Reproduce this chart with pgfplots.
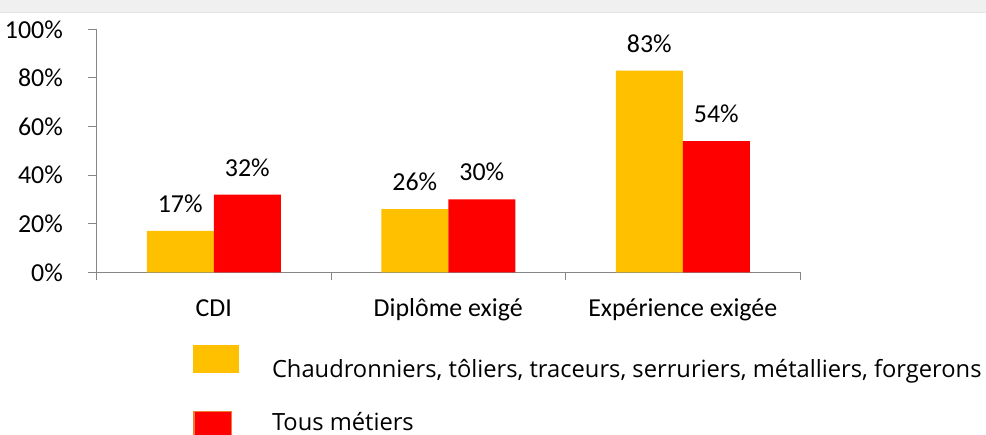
\documentclass[border=0pt]{standalone}
\usepackage{pgfplots}
\pgfplotsset{compat=1.18}
\usepackage{fontspec}
\setmainfont{Carlito}
\newfontfamily\legfont{Open Sans}
\definecolor{cyellow}{HTML}{FFC000}
\definecolor{cred}{HTML}{FF0000}
\definecolor{axgray}{HTML}{868686}
\definecolor{band}{HTML}{F0F0F0}
\definecolor{bandline}{HTML}{E4E4E4}
\definecolor{orangeb}{HTML}{ED7D31}
\begin{document}
\begin{tikzpicture}[x=1bp,y=1bp]
\useasboundingbox (0,0) rectangle (986,435);
\fill[white] (0,0) rectangle (986,435);
\fill[band] (0,423) rectangle (986,435);
\draw[bandline, line width=0.6bp] (0,423) -- (986,423);
\begin{axis}[
  at={(96.5bp,162.7bp)}, anchor=south west,
  scale only axis, width=703.5bp, height=243bp,
  xmin=-0.5, xmax=2.5, ymin=0, ymax=100,
  ybar, bar width=67bp,
  /pgf/number format/assume math mode=true,
  axis x line*=bottom, axis y line*=left,
  axis line style={axgray, line width=1bp},
  tick style={axgray, line width=1bp},
  tick align=outside, major tick length=8bp,
  ytick={0,20,40,60,80,100},
  yticklabels={0\%,20\%,40\%,60\%,80\%,100\%},
  yticklabel style={anchor=east, inner sep=0pt, xshift=-25.5bp, font=\fontsize{26}{30}\selectfont},
  xtick={-0.5,0.5,1.5,2.5},
  xticklabels={,,,},
  extra x ticks={0,1,2},
  extra x tick labels={CDI,Diplôme exigé,Expérience exigée},
  extra x tick style={major tick length=0pt, tick label style={anchor=base, inner sep=0pt, yshift=-44bp, font=\fontsize{26}{30}\selectfont}},
  nodes near coords={\pgfmathprintnumber{\pgfplotspointmeta}\%},
  point meta=y,
  every node near coord/.append style={inner sep=0pt, yshift=18bp, font=\fontsize{26}{30}\selectfont, text=black},
  legend style={at={(0.13717,-0.29918)}, anchor=north west, draw=none, fill=none,
    inner sep=0pt, outer sep=0pt, row sep=10.5bp, column sep=31bp,
    cells={anchor=base west, inner sep=0pt},
    font=\legfont\fontsize{23.8}{28}\selectfont},
]
\addplot[fill=cyellow, draw=none, bar shift=-33.5bp,
  legend image code/.code={\path[fill=none,draw=none] (0bp,-10bp) rectangle (46bp,32.5bp); \fill[cyellow] (0bp,4.2bp) rectangle (46bp,32.5bp);}]
  coordinates {(0,17) (1,26) (2,83)};
\addlegendentry{Chaudronniers, tôliers, traceurs, serruriers, métalliers, forgerons}
\addplot[fill=cred, draw=none, bar shift=33.5bp,
  legend image code/.code={\path[fill=none,draw=none] (0bp,-10bp) rectangle (46bp,32.5bp); \filldraw[fill=cred, draw=orangeb, line width=1.5bp] (0.75bp,-10bp) rectangle (38.5bp,19.2bp);}]
  coordinates {(0,32) (1,30) (2,54)};
\addlegendentry{Tous métiers}
\end{axis}
\end{tikzpicture}
\end{document}
